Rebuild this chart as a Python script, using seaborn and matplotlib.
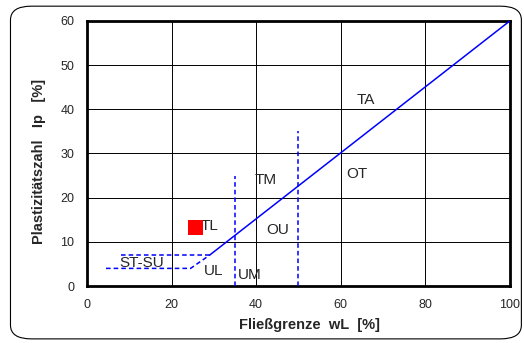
import numpy as np
import pandas as pd
import matplotlib
matplotlib.use('Agg')
import matplotlib.pyplot as plt
from matplotlib.patches import FancyBboxPatch
import seaborn as sns

# Daten: A-Linie und Grenzlinien (Plastizitaetsdiagramm)
a_line_wl = [29, 100]
a_line_ip = [7, 60]
upper_dash_wl = [8, 29]
upper_dash_ip = [7, 7]
lower_dash_wl = [4.5, 24.5, 29]
lower_dash_ip = [4, 4, 7]
v35_wl = [35, 35]
v35_ip = [0, 25]
v50_wl = [50, 50]
v50_ip = [0, 35]

# Probe
sample_wl = [25.6]
sample_ip = [13.2]

# Bereichsbezeichnungen
zone_labels = ['TA', 'OT', 'TM', 'OU', 'TL', 'ST-SU', 'UL', 'UM']
zone_x = [66, 63.8, 42.3, 45.2, 29.0, 13.0, 30.0, 38.5]
zone_y = [42, 25.4, 24, 12.7, 13.6, 5.2, 3.4, 2.5]

sns.set_style('white')
plt.rcParams['font.family'] = ['Liberation Sans', 'DejaVu Sans']

fig = plt.figure(figsize=(5.24, 3.43), dpi=100)
fig.patches.append(FancyBboxPatch((0.02, 0.012), 0.975, 0.97, boxstyle='round,pad=0,rounding_size=0.04',
                                  transform=fig.transFigure, fill=False, edgecolor='black', linewidth=0.8))
ax = fig.add_axes([0.166, 0.166, 0.807, 0.773])

line_kw = dict(color='blue', linewidth=1.1, ax=ax, legend=False, estimator=None, sort=False, zorder=3)
sns.lineplot(x=a_line_wl, y=a_line_ip, **line_kw)
for xs, ys in [(upper_dash_wl, upper_dash_ip), (lower_dash_wl, lower_dash_ip),
               (v35_wl, v35_ip), (v50_wl, v50_ip)]:
    df = pd.DataFrame({'wl': xs, 'ip': ys})
    sns.lineplot(data=df, x='wl', y='ip', linestyle=(0, (3, 2)), **line_kw)

sns.scatterplot(x=sample_wl, y=sample_ip, marker='s', s=120, color='red', edgecolor='none', ax=ax, zorder=5)

for lab, x, y in zip(zone_labels, zone_x, zone_y):
    ax.text(x, y, lab, fontsize=11, ha='center', va='center')

ax.set_xlim(0, 100)
ax.set_ylim(0, 60)
ax.set_xticks(np.arange(0, 101, 20))
ax.set_yticks(np.arange(0, 61, 10))
ax.grid(True, color='black', linewidth=0.7, zorder=0)
ax.set_axisbelow(True)
ax.tick_params(axis='both', labelsize=9, direction='out', length=4, width=0.8, color='black', pad=5)
for sp in ax.spines.values():
    sp.set_color('black')
    sp.set_linewidth(2)

ax.set_xlabel('Fließgrenze  wL  [%]', fontsize=10.5, fontweight='bold')
ax.set_ylabel('Plastizitätszahl   Ip   [%]', fontsize=10.5, fontweight='bold')
ax.xaxis.set_label_coords(0.527, -0.12)
ax.yaxis.set_label_coords(-0.097, 0.47)

fig.savefig('out.png', dpi=100)
